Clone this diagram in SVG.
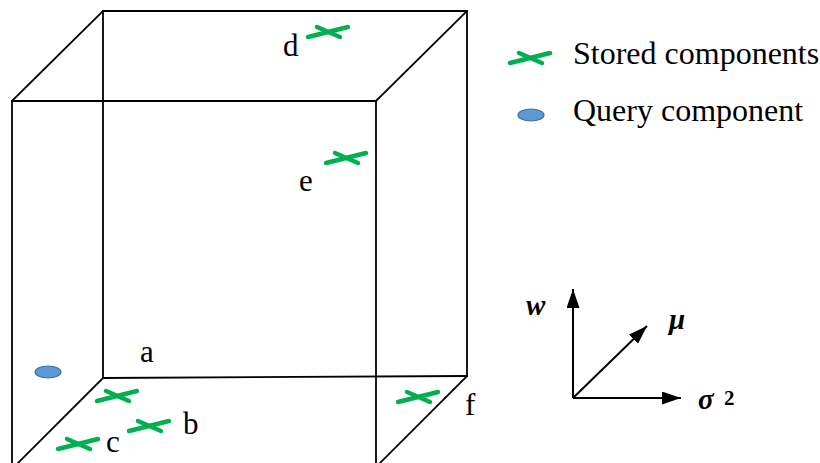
<svg xmlns="http://www.w3.org/2000/svg" width="820" height="463" viewBox="0 0 820 463">
<defs>
<style>
.edge{stroke:#000;stroke-width:1.8;fill:none;stroke-linecap:square}
.axis{stroke:#000;stroke-width:2;fill:none}
.x{stroke:#00b050;stroke-width:4.5;stroke-linecap:round;fill:none}
.q{fill:#5b9bd5;stroke:#41719c;stroke-width:1.2}
.lbl{font-family:"Liberation Serif","Times New Roman",serif;font-size:31px;fill:#000}
.leg{font-size:32px}
.ax{font-family:"Liberation Serif","Times New Roman",serif;font-size:29px;font-weight:bold;font-style:italic;fill:#000}
</style>
<marker id="ah" viewBox="0 0 10 10" refX="10" refY="5" markerWidth="19" markerHeight="13" markerUnits="userSpaceOnUse" orient="auto" preserveAspectRatio="none">
<path d="M0,0 L10,5 L0,10 Z" fill="#000"/>
</marker>
<g id="cross"><line class="x" x1="-20" y1="5" x2="20" y2="-5"/><line class="x" x1="-11" y1="-5" x2="12" y2="5"/></g>
</defs>
<g id="cube">
<line class="edge" x1="12" y1="101" x2="376" y2="101"/>
<line class="edge" x1="12" y1="101" x2="12" y2="470"/>
<line class="edge" x1="376" y1="101" x2="376" y2="470"/>
<line class="edge" x1="103" y1="11" x2="467" y2="11"/>
<line class="edge" x1="103" y1="11" x2="103" y2="378"/>
<line class="edge" x1="467" y1="11" x2="467" y2="376"/>
<line class="edge" x1="103" y1="378" x2="467" y2="376"/>
<line class="edge" x1="12" y1="101" x2="103" y2="11"/>
<line class="edge" x1="376" y1="101" x2="467" y2="11"/>
<line class="edge" x1="103" y1="378" x2="10" y2="471"/>
<line class="edge" x1="467" y1="376" x2="372" y2="471"/>
</g>
<g id="query"><ellipse class="q" cx="48" cy="372" rx="13" ry="6"/></g>
<g id="d"><use href="#cross" x="328" y="32"/><text class="lbl" x="283" y="56">d</text></g>
<g id="e"><use href="#cross" x="346" y="158"/><text class="lbl" x="299" y="191">e</text></g>
<g id="a"><use href="#cross" x="117" y="396"/><text class="lbl" x="140" y="362">a</text></g>
<g id="b"><use href="#cross" x="149" y="426"/><text class="lbl" x="183" y="434">b</text></g>
<g id="c"><use href="#cross" x="78" y="444"/><text class="lbl" x="106" y="452">c</text></g>
<g id="f"><use href="#cross" x="418" y="397"/><text class="lbl" x="465" y="415">f</text></g>
<g id="legend">
<use href="#cross" x="530" y="58"/>
<text class="lbl leg" x="573" y="64">Stored components</text>
<ellipse class="q" cx="531" cy="115" rx="13" ry="6"/>
<text class="lbl leg" x="573" y="121">Query component</text>
</g>
<g id="axes">
<line class="axis" x1="573" y1="398" x2="573" y2="289" marker-end="url(#ah)"/>
<line class="axis" x1="573" y1="398" x2="681" y2="398" marker-end="url(#ah)"/>
<line class="axis" x1="573" y1="398" x2="647" y2="326" marker-end="url(#ah)"/>
<text class="ax" x="526" y="315">w</text>
<text class="ax" x="669" y="329">μ</text>
<text class="ax" x="698" y="409">σ</text>
<text class="ax" x="724" y="405" style="font-size:21px;font-style:normal">2</text>
</g>
</svg>
